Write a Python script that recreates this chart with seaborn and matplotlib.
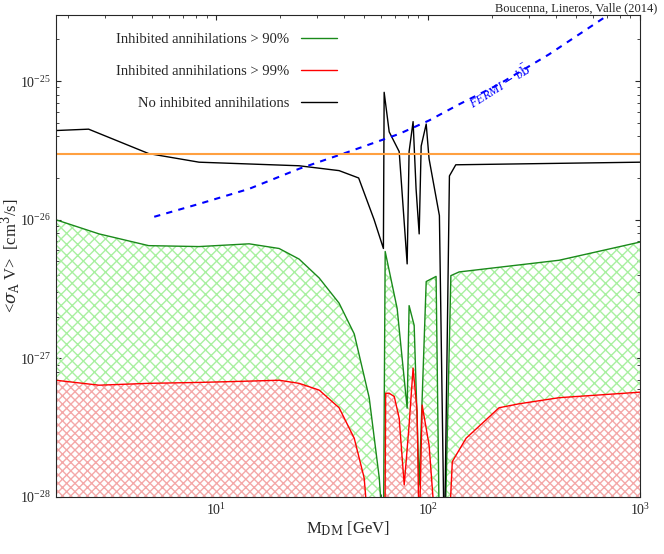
import numpy as np
import pandas as pd
import matplotlib
matplotlib.use("Agg")
import matplotlib.pyplot as plt
import seaborn as sns

sns.set_style("ticks")
plt.rcParams["font.family"] = "Liberation Serif"
plt.rcParams["mathtext.fontset"] = "dejavuserif"
plt.rcParams["hatch.linewidth"] = 1.0

# No inhibited annihilations (black)
m_black = [1.76, 2.5, 4.8, 8.3, 24.6, 38, 47, 55.6, 61.5, 62.0, 65.5, 73.0, 79.6, 81.3, 84.9, 87.7,
           90.7, 92.7, 97.9, 101, 113, 119, 119.5, 126, 135, 1000]
s_black = [4.4e-26, 4.5e-26, 3.0e-26, 2.6e-26, 2.45e-26, 2.26e-26, 2.0e-26, 1.0e-26, 6.2e-27, 8.3e-26,
           4.3e-26, 3.1e-26, 4.8e-27, 3.1e-26, 5.1e-26, 1.67e-26, 7.9e-27, 3.4e-26, 4.9e-26, 2.75e-26,
           1.07e-26, 5e-29, 5e-29, 2.07e-26, 2.49e-26, 2.6e-26]

# Inhibited > 90% (green)
m_green = [1.75, 2.8, 4.8, 8.3, 14.3, 19.8, 24.6, 30.6, 38, 44.8, 52.7, 58.8, 61.5, 62.7, 71.4, 79.6,
           81.3, 85.9, 90.7, 97.9, 109, 113, 120, 128, 140, 415, 1000]
s_green = [1.0e-26, 7.9e-27, 6.5e-27, 6.4e-27, 6.7e-27, 6.2e-27, 5.2e-27, 3.8e-27, 2.5e-27, 1.5e-27,
           5.2e-28, 1.37e-28, 5e-29, 5.9e-27, 2.29e-27, 4.37e-28, 2.4e-27, 1.73e-27, 1.22e-28, 3.58e-27,
           3.9e-27, 5e-29, 5e-29, 3.95e-27, 4.2e-27, 5.1e-27, 6.9e-27]

# Inhibited > 99% (red)
m_red = [1.75, 2.8, 4.8, 8.3, 14.3, 19.8, 24.6, 30.6, 38, 44.8, 49.9, 52.7, 62.5, 63.0, 65.5, 69.2,
         73.0, 77.1, 81.3, 84.9, 88.7, 90.7, 93.7, 101, 109, 125, 130, 151, 216, 269, 415, 1000]
s_red = [6.95e-28, 6.4e-28, 6.6e-28, 6.7e-28, 6.85e-28, 6.95e-28, 6.6e-28, 5.9e-28, 4.4e-28, 2.65e-28,
         1.37e-28, 5e-29, 5e-29, 5.6e-28, 5.6e-28, 5.3e-28, 3.7e-28, 1.22e-28, 3.3e-28, 8.5e-28,
         4.16e-28, 5e-29, 4.6e-28, 2.37e-28, 5e-29, 5e-29, 1.8e-28, 2.65e-28, 4.4e-28, 4.7e-28, 5.2e-28, 5.7e-28]

# FERMI bb limit
m_fermi = [5.1, 8.3, 14.3, 24.6, 42.4, 73, 101, 140, 216, 372, 714]
s_fermi = [1.05e-26, 1.3e-26, 1.67e-26, 2.33e-26, 3.1e-26, 4.16e-26, 5.2e-26, 6.8e-26, 9.5e-26, 1.56e-25, 3.03e-25]

thermal = 3.0e-26

fig = plt.figure(figsize=(6.64, 5.54), dpi=100)
ax = fig.add_axes([0.084, 0.103, 0.88, 0.870])
ax.set_xscale("log"); ax.set_yscale("log")

ax.fill_between(m_green, 1e-30, s_green, facecolor="none", edgecolor="#a8f0a0", hatch="xxx", linewidth=0)
ax.fill_between(m_red, 1e-30, s_red, facecolor="white", edgecolor="#f4a8a8", hatch="xxxx", linewidth=0)

sns.lineplot(x=m_green, y=s_green, sort=False, color="#1a8a1a", lw=1.0, ax=ax, label="Inhibited annihilations > 90%")
sns.lineplot(x=m_red, y=s_red, sort=False, color="red", lw=1.0, ax=ax, label="Inhibited annihilations > 99%")
sns.lineplot(x=m_black, y=s_black, sort=False, color="black", lw=1.0, ax=ax, label="No inhibited annihilations")
sns.lineplot(x=m_fermi, y=s_fermi, sort=False, color="blue", lw=1.5, ax=ax, linestyle=(0, (3, 3)))
ax.axhline(thermal, color="#ffa040", lw=1.5)

ax.set_xlim(1.75, 1000)
ax.set_ylim(1e-28, 3e-25)
ax.set_xlabel(r"M$_{\rm DM}$ [GeV]", fontsize=12, labelpad=1)
ax.set_ylabel(r"<$\sigma_{\rm A}$ V>  [cm$^3$/s]", fontsize=12, labelpad=-2)
ax.tick_params(which="both", direction="in", top=True, right=True)

h, l = ax.get_legend_handles_labels()
leg = ax.legend(h[:3], l[:3], loc="upper left", bbox_to_anchor=(0.08, 0.99), frameon=False,
                markerfirst=False, labelspacing=1.3, handlelength=2.5, fontsize=10.5)
ax.text(150, 6.3e-26, r"FERMI $-$ b$\bar{\rm b}$", color="blue", rotation=32, style="italic", fontsize=9)
fig.text(0.99, 0.985, "Boucenna, Lineros, Valle (2014)", ha="right", va="center", fontsize=9)
fig.savefig("out.png", dpi=100)
